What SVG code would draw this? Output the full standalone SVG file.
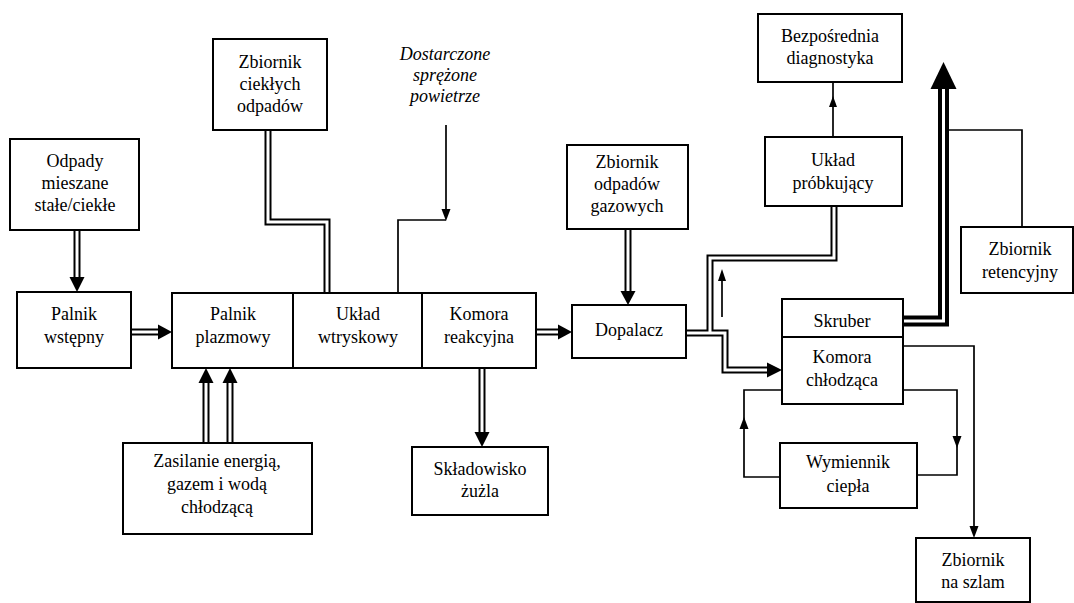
<svg xmlns="http://www.w3.org/2000/svg" width="1074" height="603" viewBox="0 0 1074 603" font-family="'Liberation Serif', 'Times New Roman', 'DejaVu Serif', serif">
  <style>
    .box { fill: #fff; stroke: #000; stroke-width: 2; }
    .t { font-family: 'Liberation Serif', 'Times New Roman', 'DejaVu Serif', serif; font-size: 18px; fill: #000; text-anchor: middle; }
    .it { font-style: italic; }
    .ln { fill: none; stroke: #000; stroke-width: 1.7; }
    .do { fill: none; stroke: #000; stroke-width: 7; }
    .di { fill: none; stroke: #fff; stroke-width: 3; }
    .bo { fill: none; stroke: #000; stroke-width: 11; }
    .bi { fill: none; stroke: #fff; stroke-width: 3; }
    .hd { fill: #000; }
  </style>
  <rect width="1074" height="603" fill="#fff"/>

  <!-- connectors: double lines are a black stroke with a white core -->
  <g id="connectors">
    <!-- outer strokes -->
    <path class="do" d="M77,231 V278"/>
    <path class="do" d="M131,332 H159"/>
    <path class="do" d="M268,130 V222 H327 V293"/>
    <path class="do" d="M206,443 V382"/>
    <path class="do" d="M230,443 V382"/>
    <path class="do" d="M482,368 V433"/>
    <path class="do" d="M536,332 H559"/>
    <path class="do" d="M628,229 V292"/>
    <path class="do" d="M686,333 H725 V370 H768"/>
    <path class="do" d="M710,333 V258 H834 V206"/>
    <path class="bo" d="M903,321 H943.5 V88"/>
    <!-- inner cores -->
    <path class="di" d="M77,231 V278"/>
    <path class="di" d="M131,332 H159"/>
    <path class="di" d="M268,130 V222 H327 V293"/>
    <path class="di" d="M206,443 V382"/>
    <path class="di" d="M230,443 V382"/>
    <path class="di" d="M482,368 V433"/>
    <path class="di" d="M536,332 H559"/>
    <path class="di" d="M628,229 V292"/>
    <path class="di" d="M686,333 H725 V370 H768"/>
    <path class="di" d="M710,333 V258 H834 V206"/>
    <path class="bi" d="M903,321 H943.5 V88"/>

    <!-- heads of the double arrows -->
    <polygon class="hd" points="69.5,277 84.5,277 77,292"/>
    <polygon class="hd" points="158,324.5 158,339.5 172,332"/>
    <polygon class="hd" points="198.5,383 213.5,383 206,368"/>
    <polygon class="hd" points="222.5,383 237.5,383 230,368"/>
    <polygon class="hd" points="474.5,432 489.5,432 482,447"/>
    <polygon class="hd" points="558,324.5 558,339.5 572,332"/>
    <polygon class="hd" points="620.5,291 635.5,291 628,305"/>
    <polygon class="hd" points="767,362.5 767,377.5 782,370"/>
    <polygon class="hd" points="930.5,89 956.5,89 943.5,62"/>

    <!-- single lines -->
    <path class="ln" d="M446,125 V212"/>
    <polygon class="hd" points="441.5,209 450.5,209 446,221"/>
    <path class="ln" d="M398,293 V220 H446"/>

    <path class="ln" d="M722,317 V280"/>
    <polygon class="hd" points="718,281 726,281 722,269"/>

    <path class="ln" d="M833,82 V137"/>
    <polygon class="hd" points="829,107 837,107 833,96"/>

    <path class="ln" d="M1022,227 V130 H948"/>

    <path class="ln" d="M903,346 H974 V527"/>
    <polygon class="hd" points="969.5,526 978.5,526 974,538"/>

    <path class="ln" d="M903,390 H957 V475 H917"/>
    <polygon class="hd" points="952.5,436 961.5,436 957,448"/>

    <path class="ln" d="M780,477 H744 V390 H782"/>
    <polygon class="hd" points="739.5,429 748.5,429 744,417"/>

    <text class="t it" x="445" y="60">Dostarczone</text>
    <text class="t it" x="445" y="81">sprężone</text>
    <text class="t it" x="445" y="102">powietrze</text>
  </g>

  <g id="odpady">
    <rect class="box" x="10" y="139" width="129" height="91"/>
    <text class="t" x="75" y="167">Odpady</text>
    <text class="t" x="75" y="189">mieszane</text>
    <text class="t" x="75" y="211">stałe/ciekłe</text>
  </g>

  <g id="palnik-wstepny">
    <rect class="box" x="17" y="292" width="114" height="76"/>
    <text class="t" x="74" y="320">Palnik</text>
    <text class="t" x="74" y="343">wstępny</text>
  </g>

  <g id="reaktor">
    <rect class="box" x="172" y="293" width="364" height="75"/>
    <line x1="293" y1="293" x2="293" y2="368" stroke="#000" stroke-width="2"/>
    <line x1="422" y1="293" x2="422" y2="368" stroke="#000" stroke-width="2"/>
    <g id="palnik-plazmowy">
      <text class="t" x="233" y="320">Palnik</text>
      <text class="t" x="233" y="343">plazmowy</text>
    </g>
    <g id="uklad-wtryskowy">
      <text class="t" x="358" y="320">Układ</text>
      <text class="t" x="358" y="343">wtryskowy</text>
    </g>
    <g id="komora-reakcyjna">
      <text class="t" x="479" y="320">Komora</text>
      <text class="t" x="479" y="343">reakcyjna</text>
    </g>
  </g>

  <g id="zbiornik-ciekle">
    <rect class="box" x="213" y="39" width="114" height="91"/>
    <text class="t" x="270" y="68">Zbiornik</text>
    <text class="t" x="270" y="90">ciekłych</text>
    <text class="t" x="270" y="112">odpadów</text>
  </g>

  <g id="zasilanie">
    <rect class="box" x="123" y="443" width="189" height="91"/>
    <text class="t" x="217" y="467">Zasilanie energią,</text>
    <text class="t" x="217" y="490">gazem i wodą</text>
    <text class="t" x="217" y="513">chłodzącą</text>
  </g>

  <g id="skladowisko">
    <rect class="box" x="412" y="447" width="136" height="68"/>
    <text class="t" x="480" y="475">Składowisko</text>
    <text class="t" x="480" y="497">żużla</text>
  </g>

  <g id="zbiornik-gazowe">
    <rect class="box" x="567" y="145" width="121" height="84"/>
    <text class="t" x="627" y="168">Zbiornik</text>
    <text class="t" x="627" y="190">odpadów</text>
    <text class="t" x="627" y="212">gazowych</text>
  </g>

  <g id="dopalacz">
    <rect class="box" x="572" y="305" width="114" height="53"/>
    <text class="t" x="629" y="336">Dopalacz</text>
  </g>

  <g id="diagnostyka">
    <rect class="box" x="758" y="14" width="144" height="68"/>
    <text class="t" x="830" y="42">Bezpośrednia</text>
    <text class="t" x="830" y="64">diagnostyka</text>
  </g>

  <g id="uklad-probkujacy">
    <rect class="box" x="765" y="137" width="137" height="69"/>
    <text class="t" x="833" y="166">Układ</text>
    <text class="t" x="833" y="189">próbkujący</text>
  </g>

  <g id="zbiornik-retencyjny">
    <rect class="box" x="961" y="227" width="112" height="66"/>
    <text class="t" x="1020" y="255">Zbiornik</text>
    <text class="t" x="1020" y="278">retencyjny</text>
  </g>

  <g id="skruber">
    <rect class="box" x="782" y="299" width="121" height="105"/>
    <line x1="782" y1="337" x2="903" y2="337" stroke="#000" stroke-width="2"/>
    <text class="t" x="842" y="327">Skruber</text>
    <g id="komora-chlodzaca">
      <text class="t" x="842" y="363">Komora</text>
      <text class="t" x="842" y="386">chłodząca</text>
    </g>
  </g>

  <g id="wymiennik">
    <rect class="box" x="780" y="443" width="137" height="65"/>
    <text class="t" x="848" y="468">Wymiennik</text>
    <text class="t" x="848" y="492">ciepła</text>
  </g>

  <g id="zbiornik-szlam">
    <rect class="box" x="916" y="538" width="114" height="64"/>
    <text class="t" x="973" y="566">Zbiornik</text>
    <text class="t" x="973" y="588">na szlam</text>
  </g>
</svg>
